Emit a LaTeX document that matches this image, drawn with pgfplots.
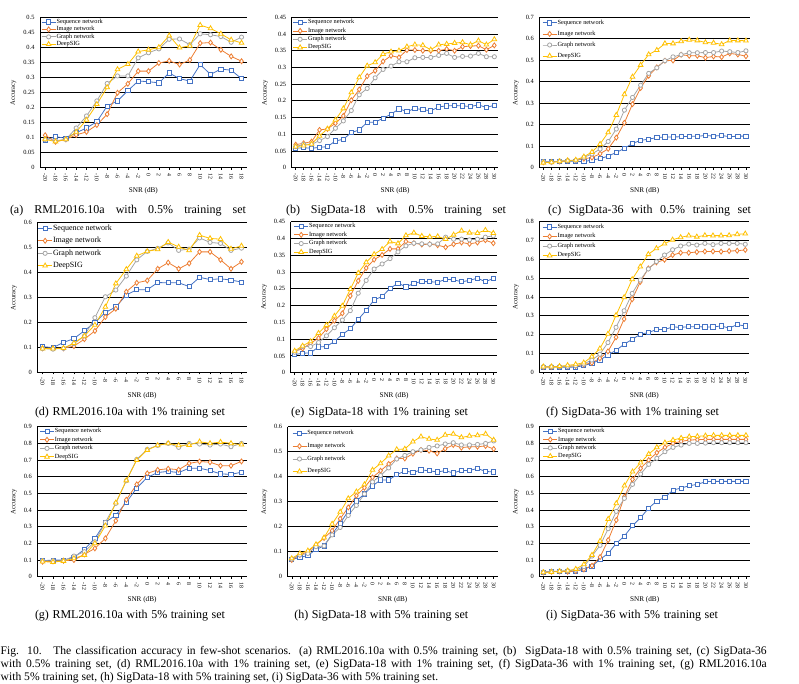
\documentclass[border=0pt]{standalone}
\usepackage{fontspec}
\setmainfont{Liberation Serif}
\usepackage{pgfplots}
\usepackage{pgfplotstable}
\pgfplotsset{compat=1.18}
\definecolor{cblue}{HTML}{4472C4}
\definecolor{corange}{HTML}{ED7D31}
\definecolor{cgray}{HTML}{A5A5A5}
\definecolor{cgold}{HTML}{FFC000}

\pgfplotstableread{
x s i g d
-20 0.092 0.108 0.094 0.094
-18 0.103 0.086 0.090 0.087
-16 0.098 0.094 0.094 0.094
-14 0.116 0.109 0.132 0.119
-12 0.132 0.119 0.172 0.159
-10 0.153 0.142 0.222 0.211
-8 0.205 0.178 0.280 0.267
-6 0.222 0.249 0.305 0.327
-4 0.256 0.279 0.305 0.344
-2 0.288 0.321 0.365 0.386
0 0.286 0.321 0.382 0.392
2 0.282 0.348 0.395 0.400
4 0.315 0.355 0.427 0.439
6 0.296 0.343 0.428 0.399
8 0.288 0.358 0.409 0.405
10 0.343 0.414 0.445 0.474
12 0.310 0.416 0.442 0.463
14 0.328 0.392 0.436 0.445
16 0.324 0.370 0.417 0.425
18 0.296 0.354 0.434 0.415
}\tabA
\pgfplotstableread{
x s i g d
-20 0.058 0.069 0.063 0.063
-18 0.060 0.073 0.070 0.066
-16 0.058 0.078 0.070 0.071
-14 0.061 0.113 0.081 0.095
-12 0.063 0.116 0.093 0.116
-10 0.080 0.133 0.118 0.143
-8 0.085 0.155 0.140 0.177
-6 0.105 0.202 0.171 0.225
-4 0.113 0.234 0.218 0.270
-2 0.136 0.274 0.237 0.305
0 0.136 0.290 0.269 0.315
2 0.148 0.318 0.294 0.340
4 0.160 0.335 0.304 0.347
6 0.176 0.330 0.317 0.350
8 0.168 0.352 0.317 0.362
10 0.177 0.352 0.329 0.368
12 0.174 0.350 0.330 0.366
14 0.170 0.350 0.330 0.353
16 0.182 0.350 0.336 0.368
18 0.185 0.355 0.342 0.370
20 0.186 0.350 0.330 0.373
22 0.185 0.362 0.333 0.375
24 0.183 0.364 0.334 0.368
26 0.188 0.365 0.342 0.380
28 0.180 0.353 0.332 0.368
30 0.187 0.366 0.332 0.384
}\tabB
\pgfplotstableread{
x s i g d
-20 0.028 0.025 0.028 0.023
-18 0.028 0.026 0.026 0.025
-16 0.030 0.029 0.031 0.029
-14 0.030 0.033 0.033 0.033
-12 0.030 0.034 0.034 0.036
-10 0.028 0.042 0.048 0.051
-8 0.036 0.047 0.064 0.073
-6 0.042 0.065 0.087 0.110
-4 0.054 0.088 0.122 0.164
-2 0.071 0.140 0.180 0.245
0 0.090 0.209 0.268 0.341
2 0.113 0.296 0.327 0.423
4 0.127 0.371 0.384 0.478
6 0.133 0.428 0.439 0.527
8 0.140 0.467 0.465 0.547
10 0.143 0.498 0.498 0.578
12 0.143 0.499 0.516 0.578
14 0.144 0.526 0.526 0.588
16 0.146 0.521 0.535 0.595
18 0.146 0.521 0.535 0.592
20 0.150 0.512 0.536 0.583
22 0.147 0.518 0.536 0.581
24 0.150 0.515 0.543 0.574
26 0.144 0.532 0.540 0.592
28 0.147 0.527 0.536 0.592
30 0.147 0.519 0.544 0.591
}\tabC
\pgfplotstableread{
x s i g d
-20 0.103 0.096 0.095 0.095
-18 0.099 0.096 0.093 0.095
-16 0.120 0.096 0.096 0.097
-14 0.135 0.105 0.115 0.117
-12 0.167 0.133 0.146 0.146
-10 0.200 0.166 0.219 0.190
-8 0.240 0.222 0.303 0.262
-6 0.262 0.255 0.330 0.356
-4 0.310 0.323 0.386 0.413
-2 0.331 0.359 0.451 0.467
0 0.331 0.368 0.485 0.485
2 0.360 0.415 0.497 0.493
4 0.359 0.440 0.519 0.522
6 0.359 0.415 0.489 0.503
8 0.344 0.437 0.494 0.489
10 0.381 0.483 0.539 0.550
12 0.372 0.483 0.521 0.537
14 0.375 0.451 0.517 0.534
16 0.370 0.415 0.489 0.495
18 0.362 0.443 0.498 0.507
}\tabD
\pgfplotstableread{
x s i g d
-20 0.054 0.063 0.061 0.065
-18 0.058 0.072 0.078 0.080
-16 0.059 0.088 0.078 0.093
-14 0.077 0.103 0.090 0.118
-12 0.078 0.130 0.110 0.142
-10 0.093 0.155 0.134 0.169
-8 0.114 0.177 0.157 0.199
-6 0.131 0.229 0.185 0.249
-4 0.159 0.274 0.237 0.297
-2 0.186 0.312 0.275 0.329
0 0.217 0.337 0.309 0.353
2 0.227 0.351 0.324 0.368
4 0.251 0.369 0.340 0.391
6 0.267 0.369 0.360 0.385
8 0.256 0.391 0.378 0.409
10 0.266 0.386 0.386 0.417
12 0.272 0.382 0.384 0.407
14 0.271 0.383 0.383 0.405
16 0.270 0.380 0.384 0.406
18 0.278 0.374 0.404 0.398
20 0.277 0.383 0.398 0.411
22 0.271 0.388 0.398 0.423
24 0.275 0.384 0.396 0.417
26 0.282 0.388 0.398 0.416
28 0.271 0.395 0.404 0.425
30 0.281 0.386 0.408 0.416
}\tabE
\pgfplotstableread{
x s i g d
-20 0.028 0.028 0.030 0.030
-18 0.028 0.028 0.030 0.030
-16 0.028 0.030 0.030 0.032
-14 0.027 0.032 0.032 0.037
-12 0.028 0.034 0.035 0.042
-10 0.035 0.041 0.044 0.051
-8 0.048 0.050 0.065 0.083
-6 0.065 0.074 0.096 0.126
-4 0.092 0.111 0.158 0.204
-2 0.117 0.186 0.239 0.303
0 0.149 0.283 0.327 0.398
2 0.175 0.388 0.419 0.494
4 0.202 0.480 0.490 0.561
6 0.211 0.552 0.549 0.627
8 0.227 0.584 0.588 0.658
10 0.227 0.598 0.623 0.683
12 0.241 0.623 0.651 0.704
14 0.239 0.635 0.671 0.717
16 0.242 0.635 0.681 0.726
18 0.242 0.639 0.676 0.720
20 0.241 0.642 0.685 0.727
22 0.241 0.642 0.678 0.726
24 0.246 0.641 0.685 0.726
26 0.235 0.644 0.685 0.727
28 0.253 0.646 0.685 0.733
30 0.246 0.650 0.680 0.736
}\tabF
\pgfplotstableread{
x s i g d
-20 0.096 0.090 0.096 0.090
-18 0.100 0.092 0.096 0.088
-16 0.100 0.096 0.096 0.094
-14 0.116 0.100 0.124 0.110
-12 0.164 0.134 0.150 0.130
-10 0.230 0.170 0.210 0.200
-8 0.326 0.230 0.326 0.306
-6 0.370 0.336 0.440 0.444
-4 0.446 0.462 0.576 0.577
-2 0.532 0.554 0.704 0.700
0 0.596 0.620 0.764 0.760
2 0.625 0.641 0.788 0.788
4 0.632 0.648 0.800 0.800
6 0.625 0.642 0.776 0.788
8 0.651 0.680 0.800 0.790
10 0.651 0.691 0.796 0.810
12 0.637 0.687 0.790 0.800
14 0.617 0.666 0.796 0.808
16 0.614 0.666 0.780 0.800
18 0.627 0.692 0.800 0.792
}\tabG
\pgfplotstableread{
x s i g d
-20 0.069 0.067 0.071 0.073
-18 0.077 0.087 0.087 0.093
-16 0.085 0.100 0.093 0.104
-14 0.109 0.127 0.120 0.129
-12 0.123 0.155 0.123 0.156
-10 0.171 0.184 0.167 0.211
-8 0.213 0.232 0.197 0.259
-6 0.263 0.277 0.245 0.313
-4 0.303 0.324 0.285 0.340
-2 0.331 0.356 0.331 0.369
0 0.363 0.397 0.379 0.427
2 0.387 0.424 0.405 0.453
4 0.387 0.451 0.435 0.484
6 0.408 0.473 0.471 0.509
8 0.423 0.473 0.485 0.511
10 0.417 0.492 0.500 0.540
12 0.427 0.507 0.507 0.560
14 0.424 0.504 0.517 0.551
16 0.419 0.493 0.523 0.547
18 0.424 0.512 0.531 0.567
20 0.415 0.527 0.536 0.571
22 0.425 0.516 0.527 0.557
24 0.425 0.520 0.527 0.563
26 0.433 0.520 0.529 0.565
28 0.421 0.523 0.533 0.571
30 0.419 0.511 0.543 0.547
}\tabH
\pgfplotstableread{
x s i g d
-20 0.028 0.026 0.028 0.026
-18 0.030 0.030 0.032 0.028
-16 0.032 0.032 0.034 0.032
-14 0.032 0.030 0.036 0.036
-12 0.034 0.034 0.040 0.046
-10 0.046 0.044 0.060 0.074
-8 0.064 0.066 0.124 0.130
-6 0.104 0.118 0.188 0.214
-4 0.140 0.220 0.288 0.346
-2 0.200 0.340 0.392 0.440
0 0.244 0.480 0.470 0.546
2 0.306 0.584 0.554 0.630
4 0.354 0.650 0.616 0.684
6 0.412 0.700 0.674 0.736
8 0.454 0.744 0.710 0.776
10 0.476 0.776 0.750 0.804
12 0.520 0.800 0.776 0.820
14 0.532 0.812 0.790 0.832
16 0.546 0.820 0.800 0.840
18 0.554 0.822 0.800 0.842
20 0.570 0.824 0.802 0.846
22 0.572 0.824 0.804 0.848
24 0.572 0.824 0.804 0.848
26 0.572 0.824 0.804 0.848
28 0.572 0.824 0.804 0.848
30 0.572 0.824 0.804 0.848
}\tabI

\pgfplotsset{
 sub/.style={
  scale only axis, anchor=south west,
  axis lines*=left,
  axis line style={black, line width=0.5pt, -},
  ymajorgrids, grid style={black, line width=0.9pt},
  ymin=0, xmin=-21,
  tick align=outside, major tick length=2pt,
  ytick style={draw=none},
  xtick style={black, line width=0.4pt},
  /pgf/number format/assume math mode=true,
  yticklabel style={font=\fontsize{6.4}{7}\selectfont, /pgf/number format/fixed, /pgf/number format/precision=2},
  xticklabel style={font=\fontsize{5.8}{6}\selectfont, rotate=-90, anchor=west},
  ylabel={Accuracy}, xlabel={SNR (dB)},
  ylabel style={font=\fontsize{6.6}{7}\selectfont},
  xlabel style={font=\fontsize{7.2}{8}\selectfont},
  legend cell align=left,
  legend image code/.code={\draw[mark repeat=2,mark phase=2] plot coordinates {(0pt,0pt) (7pt,0pt) (14pt,0pt)};},
  legend style={draw=none, fill=none, anchor=north west, inner sep=0pt, outer sep=0pt, font=\fontsize{6.3}{7}\selectfont, nodes={inner sep=0.5pt}},
 },
 rml/.style={xmax=19, xtick={-20,-18,...,18}},
 sig/.style={xmax=31, xtick={-20,-18,...,30}},
 seq/.style={cblue, line width=0.8pt, mark=square*, mark size=2.1pt, mark options={fill=white, solid}},
 img/.style={corange, line width=0.8pt, mark=diamond*, mark size=2.5pt, mark options={fill=white, solid}},
 gra/.style={cgray, line width=0.8pt, mark=*, mark size=2.1pt, mark options={fill=white, solid}},
 dsg/.style={cgold, line width=0.8pt, mark=triangle*, mark size=2.7pt, mark options={fill=white, solid}},
}
\newcommand{\fourplots}[1]{%
 \addplot[seq] table[x=x,y=s] {#1}; \addlegendentry{Sequence network}
 \addplot[img] table[x=x,y=i] {#1}; \addlegendentry{Image network}
 \addplot[gra] table[x=x,y=g] {#1}; \addlegendentry{Graph network}
 \addplot[dsg] table[x=x,y=d] {#1}; \addlegendentry{DeepSIG}
}

\begin{document}
\begin{tikzpicture}
\path[use as bounding box] (0,0) rectangle (799pt,-684pt);

% (a)
\begin{axis}[sub, rml, at={(40pt,-167.7pt)}, width=206.7pt, height=150.4pt,
  ymax=0.5, ytick={0,0.05,0.1,0.15,0.2,0.25,0.3,0.35,0.4,0.45,0.5},
  legend style={at={(0.006,0.992)}, row sep=0.6pt}]
\fourplots{\tabA}
\end{axis}
% (b)
\begin{axis}[sub, sig, at={(291.7pt,-167.7pt)}, width=206.6pt, height=150.4pt,
  ymax=0.45, ytick={0,0.05,0.1,0.15,0.2,0.25,0.3,0.35,0.4,0.45},
  legend style={at={(0.005,0.988)}, row sep=1.5pt}]
\fourplots{\tabB}
\end{axis}
% (c)
\begin{axis}[sub, sig, at={(539.3pt,-167.7pt)}, width=210.7pt, height=150.4pt,
  ymax=0.7, ytick={0,0.1,0.2,0.3,0.4,0.5,0.6,0.7},
  legend style={at={(0.014,0.986)}, row sep=4.2pt}]
\fourplots{\tabC}
\end{axis}
% (d)
\begin{axis}[sub, rml, at={(37.3pt,-372.3pt)}, width=209.4pt, height=149.6pt,
  ymax=0.6, ytick={0,0.1,0.2,0.3,0.4,0.5,0.6},
  legend style={at={(0.002,0.990)}, row sep=4.5pt, font=\fontsize{8}{9}\selectfont}]
\fourplots{\tabD}
\end{axis}
% (e)
\begin{axis}[sub, sig, at={(290.7pt,-372.7pt)}, width=206.6pt, height=151pt,
  ymax=0.45, ytick={0,0.05,0.1,0.15,0.2,0.25,0.3,0.35,0.4,0.45},
  legend style={at={(0.015,0.993)}, row sep=1.8pt}]
\fourplots{\tabE}
\end{axis}
% (f)
\begin{axis}[sub, sig, at={(539.3pt,-372.3pt)}, width=210pt, height=150.6pt,
  ymax=0.8, ytick={0,0.1,0.2,0.3,0.4,0.5,0.6,0.7,0.8},
  legend style={at={(0.014,0.988)}, row sep=2.7pt}]
\fourplots{\tabF}
\end{axis}
% (g)
\begin{axis}[sub, rml, at={(37.3pt,-576.7pt)}, width=209.4pt, height=150pt,
  ymax=0.9, ytick={0,0.1,0.2,0.3,0.4,0.5,0.6,0.7,0.8,0.9},
  legend style={at={(0.011,0.993)}, row sep=1.7pt}]
\fourplots{\tabG}
\end{axis}
% (h)
\begin{axis}[sub, sig, at={(287.7pt,-576.7pt)}, width=210pt, height=150pt,
  ymax=0.6, ytick={0,0.1,0.2,0.3,0.4,0.5,0.6},
  legend style={at={(0.021,0.978)}, row sep=5.9pt}]
\fourplots{\tabH}
\end{axis}
% (i)
\begin{axis}[sub, sig, at={(539.3pt,-576.7pt)}, width=210.7pt, height=150pt,
  ymax=0.9, ytick={0,0.1,0.2,0.3,0.4,0.5,0.6,0.7,0.8,0.9},
  legend style={at={(0.017,0.993)}, row sep=1.5pt}]
\fourplots{\tabI}
\end{axis}

% sub-captions
\begin{scope}[every node/.style={anchor=base, inner sep=0pt, font=\fontsize{12}{14}\selectfont}]
\node at (128pt,-213.5pt) {\makebox[236pt][s]{(a) RML2016.10a with 0.5\% training set}};
\node at (396pt,-213.5pt) {\makebox[220pt][s]{(b) SigData-18 with 0.5\% training set}};
\node at (649.5pt,-213.5pt) {\makebox[203pt][s]{(c) SigData-36 with 0.5\% training set}};
\node at (130pt,-415pt) {\makebox[190pt][s]{(d) RML2016.10a with 1\% training set}};
\node at (379.5pt,-415pt) {\makebox[177pt][s]{(e) SigData-18 with 1\% training set}};
\node at (632.5pt,-415pt) {\makebox[173pt][s]{(f) SigData-36 with 1\% training set}};
\node at (130pt,-618.5pt) {\makebox[190pt][s]{(g) RML2016.10a with 5\% training set}};
\node at (381.3pt,-618.5pt) {\makebox[174pt][s]{(h) SigData-18 with 5\% training set}};
\node at (632pt,-618.5pt) {\makebox[172pt][s]{(i) SigData-36 with 5\% training set}};
\end{scope}

% figure caption
\begin{scope}[every node/.style={anchor=base west, inner sep=0pt, font=\fontsize{11.6}{13}\selectfont}]
\node at (0.5pt,-654pt) {\makebox[766pt][s]{Fig. 10.\quad The classification accuracy in few-shot scenarios. (a) RML2016.10a with 0.5\% training set, (b)\ \ SigData-18 with 0.5\% training set, (c) SigData-36}};
\node at (0.5pt,-667pt) {\makebox[766pt][s]{with 0.5\% training set, (d) RML2016.10a with 1\% training set, (e) SigData-18 with 1\% training set, (f) SigData-36 with 1\% training set, (g) RML2016.10a}};
\node at (0.5pt,-680pt) {with 5\% training set, (h) SigData-18 with 5\% training set, (i) SigData-36 with 5\% training set.};
\end{scope}
\end{tikzpicture}
\end{document}
